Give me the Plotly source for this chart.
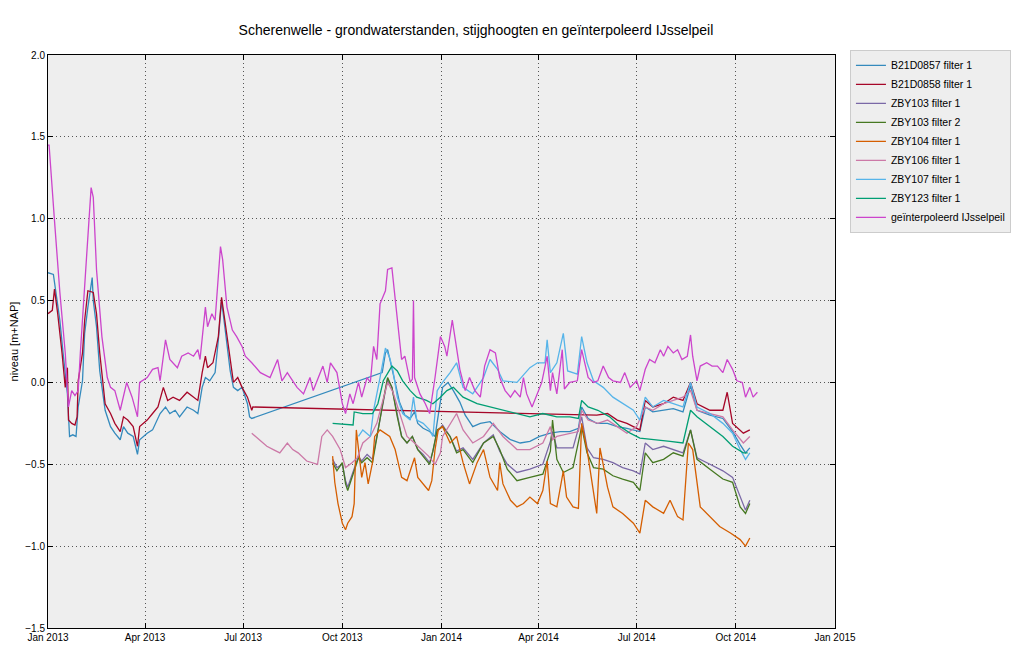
"""Scherenwelle: groundwater levels, piezometric heads and interpolated IJssel level."""

import pandas as pd
import plotly.graph_objects as go

START = pd.Timestamp("2013-01-01")

# days since 2013-01-01 and level in m+NAP
b857_day = [0, 5, 8, 11, 14, 18, 20, 23, 26, 28, 32, 34, 37, 41, 42, 45, 48, 53, 58, 62, 67, 70, 74, 79,
            83, 85, 92, 97, 104, 109, 113, 118, 122, 129, 135, 139, 143, 146, 150, 155, 158, 161, 164, 169,
            172, 176, 180, 185, 187, 189, 310, 313, 315, 318, 322, 326, 331, 336, 340, 343, 348, 354, 359,
            362, 366, 371, 376, 382, 387, 394, 401, 410, 419, 429, 438, 447, 456, 466, 475, 484, 492, 495,
            501, 509, 519, 528, 537, 549, 554, 561, 571, 580, 589, 596, 602, 614, 626, 635, 642, 647, 651]
b857_val = [0.67, 0.66, 0.52, 0.38, 0.18, -0.07, -0.33, -0.32, -0.33, -0.15, 0.01, 0.30, 0.46, 0.64, 0.50,
            0.34, 0.07, -0.17, -0.27, -0.31, -0.35, -0.27, -0.31, -0.33, -0.44, -0.35, -0.31, -0.29, -0.19,
            -0.15, -0.19, -0.17, -0.21, -0.15, -0.17, -0.19, -0.03, 0.03, 0.01, 0.06, 0.26, 0.50, 0.34, 0.07,
            -0.03, -0.05, -0.03, -0.13, -0.21, -0.22, 0.06, 0.18, 0.20, 0.12, 0.00, -0.12, -0.20, -0.22, -0.18,
            -0.25, -0.28, -0.30, -0.33, -0.20, -0.03, 0.00, -0.05, -0.12, -0.20, -0.27, -0.25, -0.24, -0.30,
            -0.35, -0.37, -0.36, -0.33, -0.31, -0.30, -0.30, -0.28, -0.15, -0.22, -0.25, -0.25, -0.27, -0.28,
            -0.30, -0.15, -0.18, -0.17, -0.16, -0.18, -0.02, -0.17, -0.20, -0.22, -0.30, -0.38, -0.43, -0.40]

b858_day = [0, 4, 6, 9, 13, 16, 18, 19, 22, 25, 27, 28, 32, 34, 37, 42, 45, 48, 53, 58, 62, 67, 70, 74, 79,
            83, 85, 92, 97, 102, 107, 111, 116, 122, 129, 135, 139, 143, 146, 148, 153, 158, 161, 164, 169,
            172, 176, 180, 185, 189, 190, 509, 519, 528, 537, 543, 549, 554, 561, 571, 580, 589, 596, 602,
            614, 626, 630, 635, 645, 651]
b858_val = [0.42, 0.44, 0.57, 0.42, 0.18, -0.03, 0.09, -0.23, -0.25, -0.26, -0.21, 0.01, 0.18, 0.38, 0.56,
            0.55, 0.42, 0.18, -0.13, -0.19, -0.25, -0.30, -0.21, -0.23, -0.27, -0.39, -0.27, -0.23, -0.19,
            -0.15, -0.03, -0.11, -0.09, -0.11, -0.06, -0.09, -0.11, 0.06, 0.16, 0.09, 0.12, 0.28, 0.52, 0.38,
            0.14, 0.00, 0.03, -0.03, -0.09, -0.17, -0.15, -0.20, -0.19, -0.23, -0.25, -0.27, -0.29, -0.11,
            -0.15, -0.13, -0.09, -0.11, 0.00, -0.13, -0.17, -0.17, -0.06, -0.25, -0.31, -0.29]

zby103_day = [264, 268, 273, 276, 278, 282, 285, 288, 291, 296, 301, 305, 311, 315, 319, 324, 328, 333, 338,
              343, 348, 354, 357, 361, 366, 373, 379, 385, 394, 404, 413, 419, 426, 435, 447, 459, 466, 468,
              472, 478, 487, 495, 500, 506, 515, 524, 533, 543, 549, 554, 561, 571, 580, 589, 596, 602, 614,
              626, 635, 642, 647, 651]
zby103_f1 = [-0.47, -0.52, -0.50, -0.60, -0.64, -0.56, -0.50, -0.45, -0.48, -0.44, -0.47, -0.33, -0.10, 0.02,
             -0.03, -0.20, -0.33, -0.37, -0.33, -0.41, -0.44, -0.49, -0.42, -0.30, -0.26, -0.33, -0.42, -0.40,
             -0.47, -0.37, -0.32, -0.42, -0.50, -0.55, -0.53, -0.50, -0.36, -0.30, -0.40, -0.40, -0.40, -0.21,
             -0.40, -0.46, -0.47, -0.49, -0.52, -0.54, -0.56, -0.37, -0.41, -0.39, -0.41, -0.43, -0.29, -0.46,
             -0.50, -0.54, -0.58, -0.70, -0.78, -0.72]
zby103_f2 = [-0.49, -0.54, -0.49, -0.62, -0.66, -0.58, -0.52, -0.46, -0.49, -0.46, -0.49, -0.33, -0.11, 0.03,
             -0.03, -0.21, -0.33, -0.37, -0.33, -0.41, -0.45, -0.50, -0.42, -0.29, -0.27, -0.33, -0.43, -0.41,
             -0.49, -0.37, -0.33, -0.41, -0.53, -0.60, -0.58, -0.56, -0.42, -0.23, -0.47, -0.55, -0.52, -0.27,
             -0.43, -0.52, -0.53, -0.57, -0.59, -0.61, -0.66, -0.43, -0.49, -0.47, -0.43, -0.45, -0.29, -0.47,
             -0.53, -0.59, -0.61, -0.76, -0.80, -0.74]

zby104_day = [264, 266, 269, 273, 276, 278, 282, 284, 286, 288, 291, 294, 297, 301, 303, 308, 313, 317, 322,
              325, 328, 333, 336, 340, 343, 348, 353, 356, 359, 362, 366, 373, 379, 385, 391, 398, 404, 410,
              417, 419, 422, 429, 435, 441, 447, 454, 459, 463, 466, 472, 478, 481, 487, 492, 495, 500, 506,
              509, 512, 519, 524, 533, 543, 549, 554, 561, 571, 577, 584, 589, 594, 598, 605, 614, 623, 633,
              642, 647, 651]
zby104_val = [-0.45, -0.61, -0.74, -0.86, -0.90, -0.86, -0.82, -0.74, -0.29, -0.41, -0.58, -0.49, -0.62, -0.49,
              -0.33, -0.29, -0.31, -0.33, -0.41, -0.49, -0.58, -0.60, -0.54, -0.46, -0.58, -0.62, -0.66, -0.60,
              -0.41, -0.29, -0.27, -0.37, -0.33, -0.49, -0.62, -0.49, -0.41, -0.58, -0.66, -0.49, -0.62, -0.72,
              -0.76, -0.74, -0.70, -0.74, -0.66, -0.48, -0.74, -0.76, -0.54, -0.70, -0.76, -0.77, -0.25, -0.41,
              -0.68, -0.80, -0.40, -0.64, -0.76, -0.80, -0.86, -0.92, -0.72, -0.76, -0.80, -0.72, -0.82, -0.84,
              -0.37, -0.41, -0.76, -0.82, -0.88, -0.92, -0.96, -1.00, -0.95]

zby106_day = [189, 194, 203, 209, 215, 222, 227, 232, 240, 250, 254, 259, 264, 271, 276, 282, 287, 292, 299,
              305, 311, 315, 320, 327, 333, 340, 347, 353, 359, 364, 366, 373, 379, 385, 394, 404, 413, 422,
              435, 447, 459, 466, 468, 472, 484, 492, 495, 501, 510, 519, 528, 537, 546, 554, 561, 571, 580,
              589, 596, 602, 614, 626, 635, 645, 651]
zby106_val = [-0.31, -0.34, -0.39, -0.41, -0.43, -0.37, -0.41, -0.43, -0.48, -0.50, -0.33, -0.29, -0.33, -0.41,
              -0.52, -0.49, -0.46, -0.37, -0.33, -0.25, -0.09, 0.00, -0.06, -0.21, -0.33, -0.37, -0.41, -0.45,
              -0.50, -0.43, -0.33, -0.25, -0.19, -0.29, -0.37, -0.33, -0.25, -0.33, -0.41, -0.41, -0.37, -0.27,
              -0.35, -0.33, -0.31, -0.30, -0.17, -0.23, -0.25, -0.23, -0.27, -0.31, -0.27, -0.15, -0.17, -0.13,
              -0.11, -0.09, -0.05, -0.17, -0.19, -0.21, -0.29, -0.37, -0.33]

zby107_day = [288, 292, 299, 302, 308, 313, 317, 320, 324, 329, 336, 339, 342, 348, 354, 357, 361, 366, 373,
              379, 385, 394, 404, 410, 417, 422, 435, 447, 454, 461, 463, 466, 472, 478, 482, 487, 491, 495,
              500, 506, 515, 524, 533, 543, 549, 554, 561, 571, 580, 589, 596, 602, 614, 626, 635, 642, 647,
              651]
zby107_val = [-0.33, -0.29, -0.33, -0.17, 0.03, 0.21, 0.15, 0.07, -0.09, -0.19, -0.23, -0.09, -0.23, -0.25,
              -0.29, -0.33, -0.05, 0.00, 0.06, 0.12, -0.03, -0.07, 0.03, 0.14, 0.08, 0.01, 0.00, 0.09, 0.12,
              0.12, 0.26, 0.06, 0.12, 0.30, 0.07, 0.06, 0.05, 0.28, 0.12, 0.01, -0.03, -0.09, -0.13, -0.17,
              -0.23, -0.09, -0.15, -0.11, -0.13, -0.15, 0.00, -0.15, -0.19, -0.25, -0.31, -0.41, -0.47, -0.43]

zby123_day = [264, 283, 284, 292, 301, 306, 311, 319, 324, 329, 336, 342, 351, 357, 364, 370, 376, 385, 398,
              410, 422, 435, 447, 459, 472, 484, 492, 495, 501, 510, 521, 531, 540, 549, 565, 577, 589, 596,
              602, 614, 626, 635, 645, 649]
zby123_val = [-0.25, -0.26, -0.18, -0.19, -0.19, -0.13, 0.01, 0.10, 0.07, 0.01, -0.05, -0.09, -0.11, -0.13,
              -0.09, -0.05, -0.03, -0.09, -0.13, -0.15, -0.17, -0.19, -0.21, -0.19, -0.21, -0.21, -0.22, -0.11,
              -0.15, -0.17, -0.21, -0.27, -0.31, -0.34, -0.35, -0.36, -0.37, -0.17, -0.21, -0.27, -0.33, -0.39,
              -0.43, -0.43]

ijssel_day = [0, 1, 6, 11, 16, 19, 22, 25, 28, 30, 36, 40, 42, 45, 50, 55, 58, 62, 67, 73, 78, 83, 85, 92,
              97, 102, 104, 109, 113, 120, 124, 130, 135, 139, 141, 146, 148, 152, 155, 158, 160, 162, 166,
              171, 175, 180, 183, 189, 197, 206, 213, 217, 222, 225, 231, 237, 243, 246, 255, 259, 262, 268,
              273, 276, 280, 283, 288, 291, 296, 299, 302, 305, 308, 313, 315, 319, 322, 325, 328, 331, 336,
              338, 339, 340, 345, 350, 354, 359, 364, 368, 370, 375, 378, 382, 387, 391, 396, 401, 405, 410,
              415, 419, 424, 429, 433, 438, 441, 444, 449, 454, 458, 463, 466, 468, 472, 477, 479, 484, 491,
              495, 498, 501, 506, 510, 515, 520, 524, 531, 535, 540, 546, 549, 554, 558, 563, 568, 571, 575,
              580, 584, 588, 593, 596, 598, 602, 605, 611, 616, 621, 626, 630, 635, 639, 644, 647, 651, 654,
              658]
ijssel_val = [1.45, 1.45, 0.99, 0.55, 0.18, -0.15, -0.05, -0.08, -0.05, 0.18, 0.79, 1.19, 1.13, 0.69, 0.28,
              0.03, -0.03, -0.05, -0.17, 0.00, -0.09, -0.21, 0.00, 0.03, 0.08, 0.09, 0.01, 0.26, 0.14, 0.09,
              0.16, 0.18, 0.16, 0.20, 0.14, 0.46, 0.34, 0.42, 0.38, 0.63, 0.83, 0.75, 0.46, 0.32, 0.28, 0.22,
              0.16, 0.12, 0.06, 0.03, 0.14, 0.01, 0.06, 0.03, -0.03, -0.07, 0.03, -0.05, 0.10, 0.00, 0.12, 0.06,
              -0.13, -0.19, -0.07, -0.13, 0.00, -0.09, 0.03, 0.00, 0.22, 0.14, 0.48, 0.56, 0.69, 0.70, 0.50,
              0.30, 0.14, 0.16, 0.00, 0.02, 0.50, 0.03, -0.07, -0.13, -0.19, 0.03, 0.28, 0.22, 0.16, 0.38, 0.24,
              0.08, -0.05, 0.03, -0.05, -0.09, 0.10, 0.20, 0.18, 0.03, -0.05, -0.09, -0.05, -0.09, 0.03, -0.07,
              -0.15, -0.07, 0.00, 0.16, -0.05, 0.06, -0.07, 0.20, -0.04, 0.00, 0.01, 0.20, 0.12, 0.03, 0.00,
              0.01, 0.10, 0.03, 0.01, 0.00, 0.06, -0.03, 0.01, -0.05, 0.08, 0.14, 0.12, 0.20, 0.16, 0.22, 0.18,
              0.20, 0.14, 0.16, 0.29, 0.16, 0.01, 0.10, 0.12, 0.10, 0.10, 0.06, 0.14, 0.08, 0.01, 0.00, -0.09,
              -0.03, -0.09, -0.06]

series = [
    ("B21D0857 filter 1", b857_day, b857_val, "#348ABD"),
    ("B21D0858 filter 1", b858_day, b858_val, "#A60628"),
    ("ZBY103 filter 1", zby103_day, zby103_f1, "#7A68A6"),
    ("ZBY103 filter 2", zby103_day, zby103_f2, "#467821"),
    ("ZBY104 filter 1", zby104_day, zby104_val, "#D55E00"),
    ("ZBY106 filter 1", zby106_day, zby106_val, "#CC79A7"),
    ("ZBY107 filter 1", zby107_day, zby107_val, "#56B4E9"),
    ("ZBY123 filter 1", zby123_day, zby123_val, "#009E73"),
    ("geïnterpoleerd IJsselpeil", ijssel_day, ijssel_val, "#CC44CC"),
]

fig = go.Figure()
for name, days, vals, color in series:
    dates = START + pd.to_timedelta(days, unit="D")
    fig.add_trace(
        go.Scatter(x=dates, y=vals, name=name, mode="lines",
                   line=dict(color=color, width=1.3))
    )

axis_style = dict(
    showline=True, linecolor="black", linewidth=1, mirror="ticks",
    ticks="inside", ticklen=5, tickcolor="black", automargin=False,
    showgrid=True, gridcolor="#555555", griddash="1px,3px", gridwidth=1,
    zeroline=False, tickfont=dict(size=10, color="black"),
)
fig.update_xaxes(range=["2013-01-01", "2015-01-01"], dtick="M3", tick0="2013-01-01",
                 tickformat="%b %Y", **axis_style)
fig.update_yaxes(range=[-1.5, 2.0], dtick=0.5, tickformat=".1f",
                 title=dict(text="niveau [m+NAP]", font=dict(size=11, color="black"), standoff=6),
                 **axis_style)

# the page adds an 8 px body margin, so the margins are 8 px smaller on the left and top
fig.update_layout(
    width=1024, height=651,
    font=dict(family="Liberation Sans, Arial, sans-serif", color="black"),
    title=dict(text="Scherenwelle - grondwaterstanden, stijghoogten en geïnterpoleerd IJsselpeil",
               x=0.457, xanchor="center", y=0.966, yanchor="middle", font=dict(size=14)),
    paper_bgcolor="white", plot_bgcolor="#eeeeee",
    margin=dict(l=40, r=197, t=47, b=31),
    legend=dict(x=1.019, y=1.009, xanchor="left", yanchor="top",
                bgcolor="#eeeeee", bordercolor="#cccccc", borderwidth=1,
                font=dict(size=10.5), tracegroupgap=0, itemwidth=30),
    showlegend=True,
)

fig.write_html("out.html")
